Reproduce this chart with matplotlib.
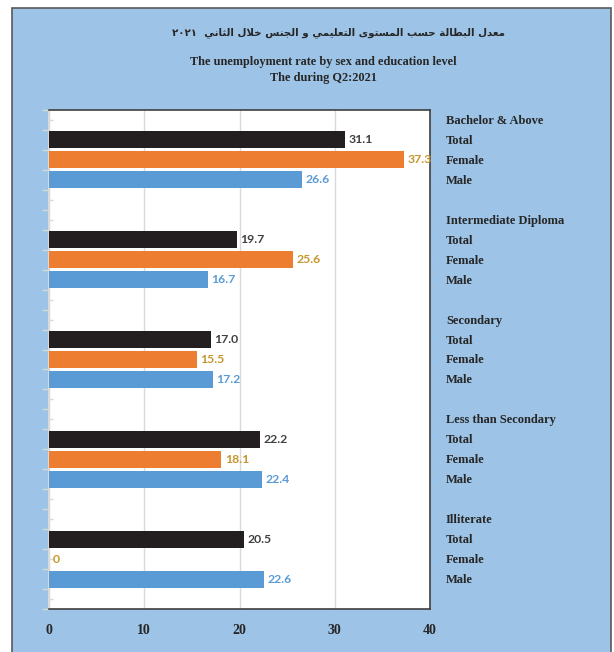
import matplotlib
matplotlib.use("Agg")
import matplotlib.pyplot as plt
from matplotlib.patches import Rectangle
from matplotlib.transforms import blended_transform_factory
import numpy as np

# ---------------- data ----------------
levels = ["Bachelor & Above", "Intermediate Diploma", "Secondary",
          "Less than Secondary", "Illiterate"]
series = ["Total", "Female", "Male"]
total_vals = [31.1, 19.7, 17.0, 22.2, 20.5]
female_vals = [37.3, 25.6, 15.5, 18.1, 0.0]
male_vals = [26.6, 16.7, 17.2, 22.4, 22.6]
x_ticks = [0, 10, 20, 30, 40]

title_ar = "معدل البطالة حسب المستوى التعليمي و الجنس خلال الثاني"
title_year = "٢٠٢١"
title_en = "The unemployment rate by sex and education level\nThe during Q2:2021"

# ---------------- simple Arabic shaping ----------------
FORMS = {
    'ا': (0xFE8D, 0xFE8E, None, None),
    'ب': (0xFE8F, 0xFE90, 0xFE91, 0xFE92),
    'ة': (0xFE93, 0xFE94, None, None),
    'ت': (0xFE95, 0xFE96, 0xFE97, 0xFE98),
    'ث': (0xFE99, 0xFE9A, 0xFE9B, 0xFE9C),
    'ج': (0xFE9D, 0xFE9E, 0xFE9F, 0xFEA0),
    'ح': (0xFEA1, 0xFEA2, 0xFEA3, 0xFEA4),
    'خ': (0xFEA5, 0xFEA6, 0xFEA7, 0xFEA8),
    'د': (0xFEA9, 0xFEAA, None, None),
    'س': (0xFEB1, 0xFEB2, 0xFEB3, 0xFEB4),
    'ط': (0xFEC1, 0xFEC2, 0xFEC3, 0xFEC4),
    'ع': (0xFEC9, 0xFECA, 0xFECB, 0xFECC),
    'ل': (0xFEDD, 0xFEDE, 0xFEDF, 0xFEE0),
    'م': (0xFEE1, 0xFEE2, 0xFEE3, 0xFEE4),
    'ن': (0xFEE5, 0xFEE6, 0xFEE7, 0xFEE8),
    'و': (0xFEED, 0xFEEE, None, None),
    'ى': (0xFEEF, 0xFEF0, None, None),
    'ي': (0xFEF1, 0xFEF2, 0xFEF3, 0xFEF4),
}


def shape_word(w):
    toks = []
    i = 0
    while i < len(w):
        if w[i] == 'ل' and i + 1 < len(w) and w[i + 1] == 'ا':
            toks.append('LA')
            i += 2
        else:
            toks.append(w[i])
            i += 1

    def dual(t):
        return t != 'LA' and t in FORMS and FORMS[t][2] is not None

    out = []
    for k, t in enumerate(toks):
        prev_join = k > 0 and dual(toks[k - 1])
        if t == 'LA':
            out.append(chr(0xFEFC if prev_join else 0xFEFB))
            continue
        f = FORMS.get(t)
        if f is None:
            out.append(t)
            continue
        next_join = dual(t) and k + 1 < len(toks)
        if prev_join and next_join:
            out.append(chr(f[3]))
        elif prev_join:
            out.append(chr(f[1]))
        elif next_join:
            out.append(chr(f[2]))
        else:
            out.append(chr(f[0]))
    return "".join(out)


def visual_arabic(s):
    shaped = " ".join(shape_word(w) for w in s.split(" "))
    return shaped[::-1]


# ---------------- figure ----------------
W, H = 614, 652
fig = plt.figure(figsize=(W / 100, H / 100), dpi=100, facecolor="white")
BG = "#9DC3E6"
fig.patches.append(Rectangle((12 / W, -0.02), (611 - 12) / W, 1 - 8 / H + 0.02,
                             transform=fig.transFigure, facecolor=BG,
                             edgecolor="#595959", linewidth=1.2, zorder=-10))

ax_l, ax_r, ax_t, ax_b = 49, 430, 110, 609
ax = fig.add_axes([ax_l / W, 1 - ax_b / H, (ax_r - ax_l) / W, (ax_b - ax_t) / H])
ax.set_zorder(2)
ax.set_facecolor("white")

n_groups = len(levels)
rows = 5 * n_groups
colors = {"Total": "#231F20", "Female": "#ED7D31", "Male": "#5B9BD5"}
lab_colors = {"Total": "#404040", "Female": "#C5962B", "Male": "#5B9BD5"}
vals = {"Total": total_vals, "Female": female_vals, "Male": male_vals}

for si, s in enumerate(series):
    ys = [5 * g + 1 + si for g in range(n_groups)]
    bars = ax.barh(ys, vals[s], height=0.85, color=colors[s], zorder=3,
                   edgecolor="none")
    for b, v in zip(bars, vals[s]):
        ax.annotate(f"{v:.1f}" if v != 0 else "0",
                    xy=(b.get_width(), b.get_y() + b.get_height() / 2),
                    xytext=(2.5, 0), textcoords="offset points",
                    ha="left", va="center", fontsize=8.8, fontweight="bold",
                    family=["Lato", "DejaVu Sans"], color=lab_colors[s],
                    zorder=4, annotation_clip=False)

ax.set_xlim(0, 40)
ax.set_ylim(rows - 0.5, -0.5)
ax.set_xticks(x_ticks)
ax.set_xticklabels([str(t) for t in x_ticks], fontsize=10, fontweight="bold",
                   family="Liberation Serif", color="#262626")
ax.tick_params(axis="x", length=0, pad=11)
ax.set_yticks(np.arange(-0.5, rows, 1.0))
ax.set_yticklabels([])
ax.set_yticks(np.arange(0, rows, 1.0), minor=True)
ax.tick_params(axis="y", which="major", length=5, color="#D9D9D9", width=1)
ax.tick_params(axis="y", which="minor", length=3, direction="in",
               color="#D9D9D9", width=1)
ax.grid(axis="x", color="#D9D9D9", linewidth=1, zorder=0)
ax.set_axisbelow(True)

ax.spines["left"].set_color("#D9D9D9")
ax.spines["left"].set_linewidth(1.5)
for sp in ("top", "right", "bottom"):
    ax.spines[sp].set_color("#404040")
    ax.spines[sp].set_linewidth(1.2)

# right-side category labels
tr = blended_transform_factory(ax.transAxes, ax.transData)
xlab = (446 - ax_l) / (ax_r - ax_l)
for g, lev in enumerate(levels):
    labels = [lev] + series
    for k, t in enumerate(labels):
        ax.text(xlab, 5 * g + k + 0.05, t, transform=tr, ha="left", va="center",
                fontsize=9, fontweight="bold", family="Liberation Serif",
                color="#262626", clip_on=False)

# titles
fig.text(339 / W, 1 - 33 / H, title_year + "  " + visual_arabic(title_ar),
         ha="center", va="center", fontsize=7.4, fontweight="bold",
         family=["DejaVu Sans"], color="#262626")
fig.text(323 / W, 1 - 70 / H, title_en, ha="center", va="center",
         fontsize=8.8, fontweight="bold", family="Liberation Serif",
         color="#262626", linespacing=1.35)

fig.savefig("out.png", dpi=100, facecolor="white")
